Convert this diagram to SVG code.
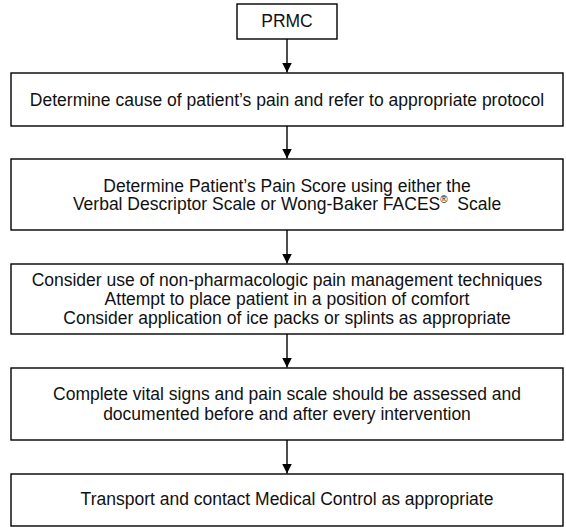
<svg xmlns="http://www.w3.org/2000/svg" width="566" height="527" viewBox="0 0 566 527">
<style>
.box{fill:#fff;stroke:#000;stroke-width:1.4}
.t{font-family:"Liberation Sans",Arial,sans-serif;font-size:17.5px;fill:#111;text-anchor:middle}
.c{stroke:#000;stroke-width:1.4;fill:none}
</style>
<defs>
<marker id="arr" markerWidth="10" markerHeight="10" refX="10" refY="5" orient="auto" markerUnits="userSpaceOnUse">
<path d="M0,0 L10,5 L0,10 Z" fill="#000"/>
</marker>
</defs>
<rect width="566" height="527" fill="#fff"/>
<g id="connectors">
<line class="c" x1="287" y1="39" x2="287" y2="72.5" marker-end="url(#arr)"/>
<line class="c" x1="287" y1="126" x2="287" y2="158.5" marker-end="url(#arr)"/>
<line class="c" x1="287" y1="230" x2="287" y2="263.5" marker-end="url(#arr)"/>
<line class="c" x1="287" y1="334" x2="287" y2="367.5" marker-end="url(#arr)"/>
<line class="c" x1="287" y1="440" x2="287" y2="473.5" marker-end="url(#arr)"/>
</g>
<g id="prmc">
<rect class="box" x="237" y="4" width="100" height="35"/>
<text class="t" x="287" y="27">PRMC</text>
</g>
<g id="cause">
<rect class="box" x="11" y="73" width="552" height="53"/>
<text class="t" x="287" y="106">Determine cause of patient’s pain and refer to appropriate protocol</text>
</g>
<g id="score">
<rect class="box" x="11" y="159" width="552" height="71"/>
<text class="t" x="287" y="191.5">Determine Patient’s Pain Score using either the</text>
<text class="t" x="287" y="210">Verbal Descriptor Scale or Wong-Baker FACES<tspan font-size="10" dy="-7">®</tspan><tspan dy="7">&#160; Scale</tspan></text>
</g>
<g id="nonpharm">
<rect class="box" x="11" y="264" width="552" height="70"/>
<text class="t" x="287" y="286">Consider use of non-pharmacologic pain management techniques</text>
<text class="t" x="287" y="305">Attempt to place patient in a position of comfort</text>
<text class="t" x="287" y="323.5">Consider application of ice packs or splints as appropriate</text>
</g>
<g id="vitals">
<rect class="box" x="11" y="368" width="552" height="72"/>
<text class="t" x="287" y="400">Complete vital signs and pain scale should be assessed and</text>
<text class="t" x="287" y="420">documented before and after every intervention</text>
</g>
<g id="transport">
<rect class="box" x="11" y="474" width="552" height="52"/>
<text class="t" x="287" y="505">Transport and contact Medical Control as appropriate</text>
</g>
</svg>
